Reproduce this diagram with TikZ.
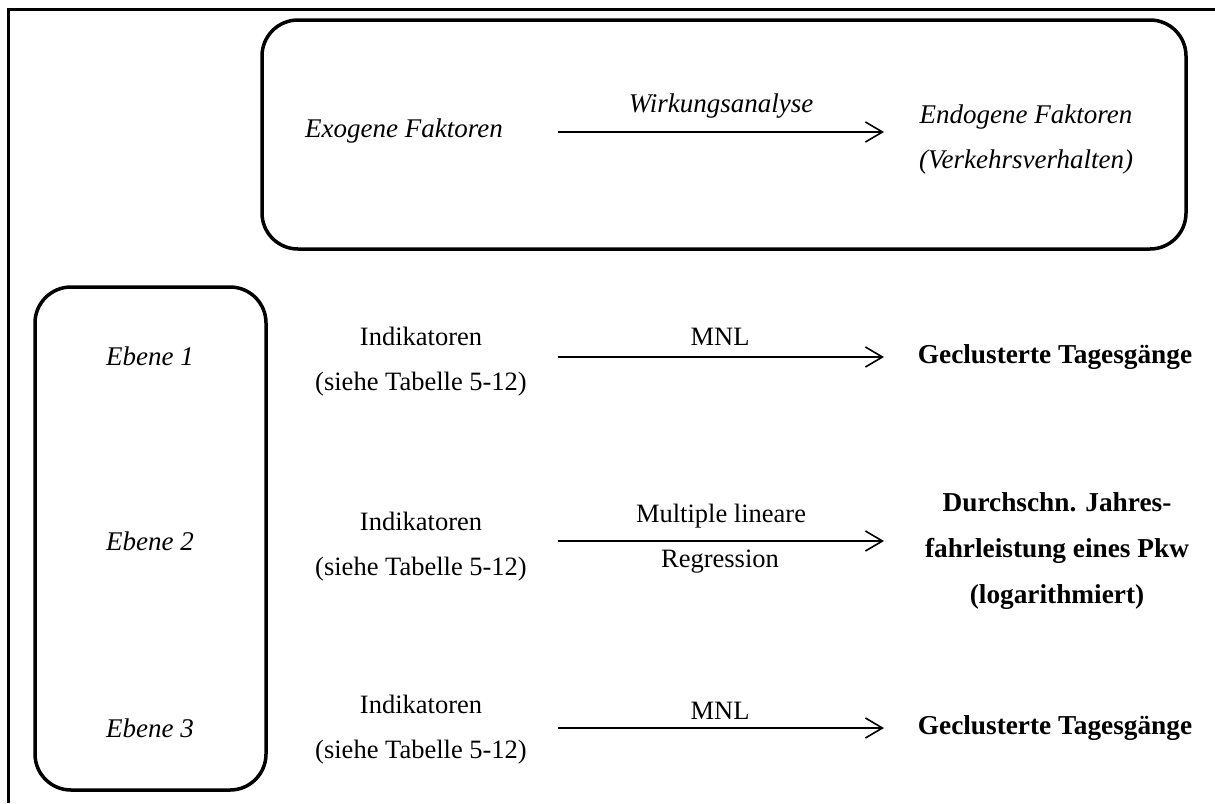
\documentclass[tikz,border=0pt]{standalone}
\usepackage{fontspec}
\setmainfont{Liberation Serif}
\usetikzlibrary{arrows.meta}
\begin{document}
\begin{tikzpicture}[x=1pt,y=-1pt,
  txt/.style={font=\fontsize{26.5}{45}\selectfont, align=center, inner sep=0pt},
  itxt/.style={txt, font=\fontsize{27}{45}\selectfont\itshape},
  btxt/.style={txt, font=\fontsize{27.3}{46}\selectfont\bfseries},
  frame/.style={draw, line width=3.5pt, rounded corners=36pt},
  flow/.style={draw, line width=1.6pt, -{Straight Barb[length=17pt,width=20pt,line width=1.6pt]}},
  border/.style={draw, line width=3pt}
]
\useasboundingbox (0,0) rectangle (1215,803);
% outer border (top and left only)
\coordinate (bl) at (8,803);
\coordinate (tl) at (8,9);
\coordinate (tr) at (1215,9);
\draw[border] (bl) -- (tl) -- (tr);

% boxes
\draw[frame] (262,20) rectangle (1186,249);
\draw[frame] (35,287) rectangle (266,790);

% top row
\node[itxt] (exo) at (404,131) {Exogene Faktoren};
\node[itxt] (endo) at (1026,140) {Endogene Faktoren\\(Verkehrsverhalten)};
\coordinate (a0s) at (558,132);
\coordinate (a0e) at (884,132);
\draw[flow] (a0s) -- (a0e);
\node[itxt] (wirk) at (721,106) {Wirkungsanalyse};

% levels
\node[itxt] (e1) at (150,356) {Ebene 1};
\node[itxt] (e2) at (150,541) {Ebene 2};
\node[itxt] (e3) at (150,728) {Ebene 3};

% row 1
\node[txt] (i1) at (421,362) {Indikatoren\\(siehe Tabelle 5-12)};
\coordinate (a1s) at (558,357);
\coordinate (a1e) at (884,357);
\draw[flow] (a1s) -- (a1e);
\node[txt] (m1) at (720,337) {MNL};
\node[btxt] (g1) at (1055,357) {Geclusterte Tagesgänge};

% row 2
\node[txt] (i2) at (421,547) {Indikatoren\\(siehe Tabelle 5-12)};
\coordinate (a2s) at (558,541);
\coordinate (a2e) at (884,541);
\draw[flow] (a2s) -- (a2e);
\node[txt] (m2a) at (721,516) {Multiple lineare};
\node[txt] (m2b) at (720,562) {Regression};
\node[btxt] (d2) at (1057,551) {Durchschn. Jahres-\\fahrleistung eines Pkw\\(logarithmiert)};

% row 3
\node[txt] (i3) at (421,730) {Indikatoren\\(siehe Tabelle 5-12)};
\coordinate (a3s) at (558,728);
\coordinate (a3e) at (884,728);
\draw[flow] (a3s) -- (a3e);
\node[txt] (m3) at (720,711) {MNL};
\node[btxt] (g3) at (1055,728) {Geclusterte Tagesgänge};
\end{tikzpicture}
\end{document}
